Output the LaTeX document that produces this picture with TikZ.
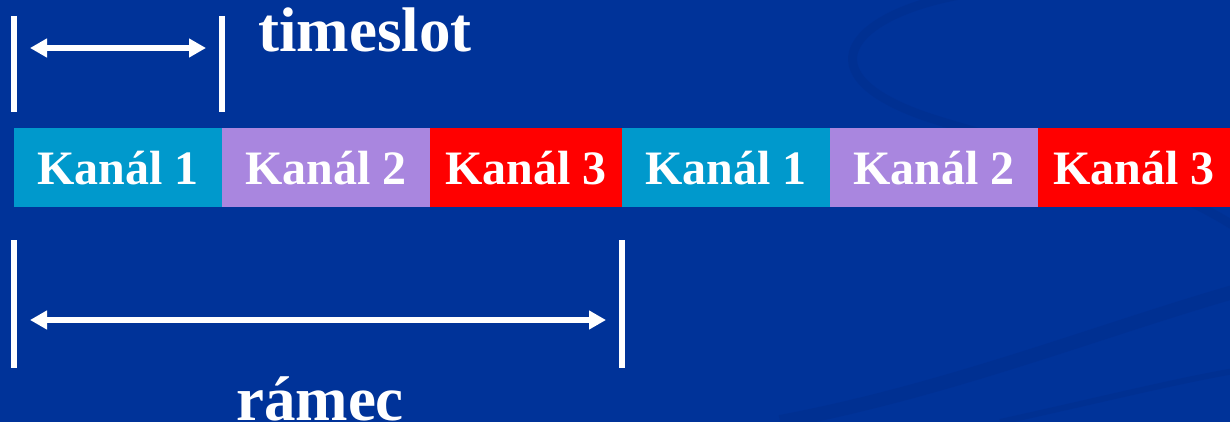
\documentclass[tikz,border=0pt]{standalone}
\usepackage{fontspec}
\setmainfont{Liberation Serif}
\usetikzlibrary{arrows.meta}

\definecolor{slidebg}{HTML}{003399}
\definecolor{swoosh}{HTML}{002E8E}
\definecolor{chA}{HTML}{0099CC}
\definecolor{chB}{HTML}{A986DF}
\definecolor{chC}{HTML}{FF0000}

\begin{document}
\begin{tikzpicture}[x=1pt,y=-1pt,
  slotbox/.style={minimum width=#1, minimum height=79pt, inner sep=0pt,
    text=white, font=\fontsize{48}{56}\selectfont\bfseries,
    text height=34pt, text depth=0pt},
  tick/.style={draw=white, line width=6pt},
  span/.style={draw=white, line width=6pt,
    {Triangle[length=17pt,width=18pt]}-{Triangle[length=17pt,width=18pt]}},
  biglabel/.style={text=white, font=\fontsize{63}{70}\selectfont\bfseries,
    inner sep=0pt}
]
% slide background
\fill[slidebg] (0,0) rectangle (1230,422);
\useasboundingbox (0,0) rectangle (1230,422);

% faint decorative swooshes
\begin{scope}[opacity=0.55]
  \draw[swoosh, line width=9pt]
    (960,-5) .. controls (850,15) and (800,75) .. (930,118)
    .. controls (1030,150) and (1150,170) .. (1240,230);
  \draw[swoosh, line width=14pt]
    (780,422) .. controls (950,390) and (1100,330) .. (1240,290);
  \draw[swoosh, line width=6pt]
    (1000,422) .. controls (1100,400) and (1180,380) .. (1240,370);
\end{scope}

% one frame of six timeslots
\node[slotbox=208pt, fill=chA] (s1) at (118,167.5) {Kanál 1};
\node[slotbox=208pt, fill=chB] (s2) at (326,167.5) {Kanál 2};
\node[slotbox=192pt, fill=chC] (s3) at (526,167.5) {Kanál 3};
\node[slotbox=208pt, fill=chA] (s4) at (726,167.5) {Kanál 1};
\node[slotbox=208pt, fill=chB] (s5) at (934,167.5) {Kanál 2};
\node[slotbox=192pt, fill=chC] (s6) at (1134,167.5) {Kanál 3};

% timeslot dimension
\coordinate (t1a) at (14,16);  \coordinate (t1b) at (14,112);
\coordinate (t2a) at (222,16); \coordinate (t2b) at (222,112);
\draw[tick] (t1a) -- (t1b);
\draw[tick] (t2a) -- (t2b);
\coordinate (ta) at (30,48); \coordinate (tb) at (206,48);
\draw[span] (ta) -- (tb);
\node[biglabel, anchor=base west] (tslabel) at (258,52) {timeslot};

% frame dimension
\coordinate (f1a) at (14,240);  \coordinate (f1b) at (14,368);
\coordinate (f2a) at (622,240); \coordinate (f2b) at (622,368);
\draw[tick] (f1a) -- (f1b);
\draw[tick] (f2a) -- (f2b);
\coordinate (fa) at (30,320); \coordinate (fb) at (606,320);
\draw[span] (fa) -- (fb);
\node[biglabel, anchor=base] (frlabel) at (320,420) {rámec};
\end{tikzpicture}
\end{document}
